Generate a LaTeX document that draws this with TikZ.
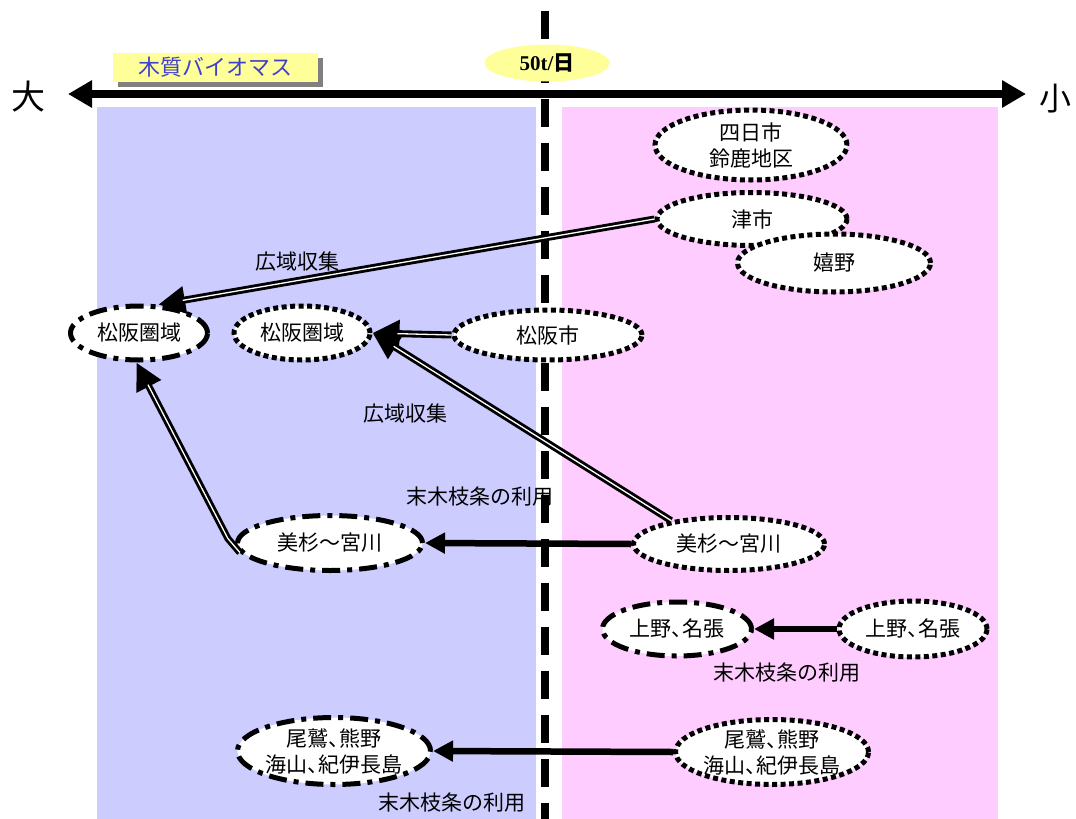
\documentclass[tikz,border=0pt]{standalone}
\usepackage{fontspec}
\setmainfont{Noto Sans CJK JP}
\newfontfamily\jpp[RawFeature=+palt]{Noto Sans CJK JP}
\newfontfamily\tms{Liberation Serif}
\usetikzlibrary{shapes.geometric,arrows.meta,shadows}
\definecolor{bgblue}{RGB}{204,204,255}
\definecolor{bgpink}{RGB}{255,204,255}
\definecolor{ylw}{RGB}{255,255,153}
\definecolor{lbltxt}{RGB}{64,64,204}
\newcommand{\tk}{{\jpp 、}}
\tikzset{
  jtext/.style={font=\fontsize{21}{26}\selectfont},
  place/.style={ellipse, fill=white, draw=black, line width=5pt, inner sep=0pt, align=center, jtext},
  dotplace/.style={place, dash pattern=on 5pt off 3.5pt},
  dashdotplace/.style={place, dash pattern=on 18pt off 7pt on 5pt off 7pt},
  lbl/.style={jtext, inner sep=0pt},
  dblouter/.style={line width=7pt, -{Triangle[length=27pt,width=26pt]}},
  dblinner/.style={white, line width=1.3pt, shorten >=25pt},
  single/.style={line width=6.5pt, -{Triangle[length=20pt,width=20pt]}}
}
\begin{document}
\begin{tikzpicture}[x=1pt,y=-1pt]
\useasboundingbox (0,0) rectangle (1076,819);
% backgrounds
\fill[bgblue] (97,107) rectangle (536,819);
\fill[bgpink] (562,107) rectangle (998,819);
% vertical threshold line
\coordinate (vtop) at (545,11);
\coordinate (vbot) at (545,819);
\draw[line width=8pt, dash pattern=on 28pt off 16pt] (vtop) -- (vbot);
% scale arrow
\coordinate (al) at (68,94);
\coordinate (ar) at (1026,94);
\draw[line width=8pt, {Triangle[length=24pt,width=26pt]}-{Triangle[length=24pt,width=26pt]}] (al) -- (ar);
\node[inner sep=0pt, font=\fontsize{34}{34}\selectfont] (big) at (28,97) {大};
\node[inner sep=0pt, font=\fontsize{32}{32}\selectfont] (small) at (1055,99) {小};
% header items
\node[ellipse, fill=ylw, minimum width=125pt, minimum height=37pt, inner sep=0pt,
      font=\fontsize{21}{24}\selectfont] (thr) at (547,63) {\tms\bfseries 50t/\normalfont\bfseries 日};
\node[fill=ylw, minimum width=205pt, minimum height=29pt, inner sep=0pt, text=lbltxt,
      font=\fontsize{22}{24}\selectfont,
      drop shadow={shadow xshift=5pt, shadow yshift=-5pt, fill=gray, opacity=1}] (bio) at (215,67.5) {木質バイオマス};
% places (right / small side)
\node[dotplace, minimum width=192pt, minimum height=70pt] (yok) at (751,145) {四日市\\鈴鹿地区};
\node[dotplace, minimum width=190pt, minimum height=53pt] (tsu) at (752,219) {津市};
\node[dotplace, minimum width=193pt, minimum height=58pt] (ure) at (834,263) {嬉野};
\node[dotplace, minimum width=188pt, minimum height=50pt] (mshi) at (548,335) {松阪市};
\node[dotplace, minimum width=191pt, minimum height=53pt] (misR) at (729,544) {美杉～宮川};
\node[dotplace, minimum width=148pt, minimum height=56pt] (ugR) at (913,629) {上野\tk 名張};
\node[dotplace, minimum width=190pt, minimum height=65pt] (owR) at (772,752) {尾鷲\tk 熊野\\海山\tk 紀伊長島};
% places (left / large side)
\node[dashdotplace, minimum width=137pt, minimum height=54pt] (mL) at (139,333) {松阪圏域};
\node[dotplace, minimum width=136pt, minimum height=54pt] (mM) at (302,333) {松阪圏域};
\node[dashdotplace, minimum width=185pt, minimum height=55pt] (misL) at (330,543) {美杉～宮川};
\node[dashdotplace, minimum width=149pt, minimum height=54pt] (ugL) at (677,629) {上野\tk 名張};
\node[dashdotplace, minimum width=191pt, minimum height=67pt] (owL) at (334,751) {尾鷲\tk 熊野\\海山\tk 紀伊長島};
% labels
\node[lbl] (l1) at (297,262) {広域収集};
\node[lbl] (l2) at (405,414) {広域収集};
\node[lbl] (l3) at (480,497) {末木枝条の利用};
\node[lbl] (l4) at (787,673) {末木枝条の利用};
\node[lbl] (l5) at (452,803) {末木枝条の利用};
% double connectors
\draw[dblouter] (tsu.west) -- (mL.56);
\draw[dblinner] (tsu.west) -- (mL.56);
\draw[dblouter] (mshi.west) -- (mM.east);
\draw[dblinner] (mshi.west) -- (mM.east);
\draw[dblouter] (misR.158) -- (mM.east);
\draw[dblinner] (misR.158) -- (mM.east);
\draw[dblouter] (misL.186) -- ++(-12,-14) -- (mL.265);
\draw[dblinner] (misL.186) -- ++(-12,-14) -- (mL.265);
% single connectors
\draw[single] (misR.west) -- (misL.east);
\draw[single] (ugR.west) -- (ugL.east);
\draw[single] (owR.west) -- (owL.east);
\end{tikzpicture}
\end{document}
